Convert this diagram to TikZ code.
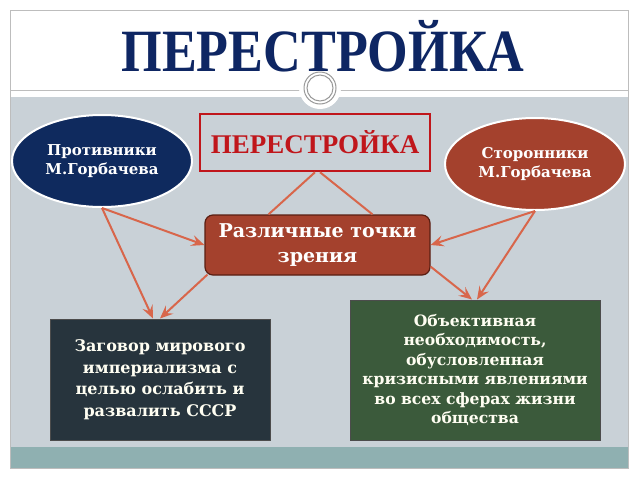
\documentclass[tikz,border=0pt]{standalone}
\usepackage{fontspec}
\setmainfont{DejaVu Serif}
\newfontfamily\headfont{Liberation Serif}
\usepackage{xcolor}
\usetikzlibrary{shapes,positioning,calc,arrows.meta}

\definecolor{titleblue}{HTML}{0E2663}
\definecolor{panelgray}{HTML}{C9D1D7}
\definecolor{bandteal}{HTML}{8FB0B1}
\definecolor{framegray}{HTML}{BDBDBD}
\definecolor{navyfill}{HTML}{0F2A5E}
\definecolor{brickfill}{HTML}{A4412D}
\definecolor{brickline}{HTML}{5A1E12}
\definecolor{slatefill}{HTML}{27343D}
\definecolor{greenfill}{HTML}{3B5A3B}
\definecolor{redline}{HTML}{C0161B}
\definecolor{arrowred}{HTML}{D8664B}

\begin{document}
\begin{tikzpicture}[x=1pt,y=-1pt,
    oval/.style={draw=white, line width=2pt, ellipse, minimum width=180pt, minimum height=92pt, inner sep=0pt, text=white, align=center, font=\bfseries\fontsize{15}{19}\selectfont},
    card/.style={draw=black!70, line width=1pt, rectangle, inner sep=0pt, text=white!95!yellow, align=center, font=\bfseries\fontsize{16}{21.5}\selectfont},
    link/.style={draw=arrowred, line width=2pt},
    arr/.style={link, -{Stealth[length=13pt,width=11pt,inset=5pt]}}
]
    \useasboundingbox (0,0) rectangle (640,480);
    \fill[white] (0,0) rectangle (640,480);

    % Slide frame and panels
    \fill[panelgray] (10,97) rectangle (628,447);
    \fill[bandteal] (10,447) rectangle (628,468);
    \draw[framegray, line width=1pt] (10,10) rectangle (628,468);
    \draw[framegray, line width=1pt] (10,90) -- (628,90);
    \fill[white] (320,88) circle (21);
    \draw[gray!80, line width=1pt] (320,88) circle (16) (320,88) circle (13);

    % Title
    \node [font=\headfont\bfseries\fontsize{60}{60}\selectfont, text=titleblue] (title) at (323,46) {\scalebox{0.87}[1]{ПЕРЕСТРОЙКА}};

    % Upper row
    \node [draw=redline, line width=2.5pt, minimum width=230pt, minimum height=57pt, inner sep=0pt, text=redline, font=\headfont\bfseries\fontsize{27}{27}\selectfont] (perestr) at (315,142.5) {ПЕРЕСТРОЙКА};
    \node [oval, fill=navyfill] (against) at (102,161) {Противники\\М.Горбачева};
    \node [oval, fill=brickfill] (support) at (535,164) {Сторонники\\М.Горбачева};

    % Middle
    \node [draw=brickline, line width=1.2pt, fill=brickfill, rounded corners=8pt, minimum width=225pt, minimum height=60pt, inner sep=0pt, text=white, align=center, font=\bfseries\fontsize{19}{25}\selectfont] (views) at (317.5,245) {Различные точки\\зрения};

    % Lower row
    \node [card, fill=slatefill, minimum width=220pt, minimum height=121pt] (plot) at (160,379.5) {Заговор мирового\\империализма с\\целью ослабить и\\развалить СССР};
    \node [card, fill=greenfill, minimum width=250pt, minimum height=140pt, font=\bfseries\fontsize{15.6}{19.5}\selectfont] (need) at (475,370) {Объективная\\необходимость,\\обусловленная\\кризисными явлениями\\во всех сферах жизни\\общества};

    % Connectors
    \draw [link] ([xshift=0pt]perestr.south) -- ([xshift=-49pt]views.north);
    \draw [link] ([xshift=5pt]perestr.south) -- ([xshift=55pt]views.north);
    \draw [arr] (against.south) -- (views.west);
    \draw [arr] (against.south) -- ([xshift=-7pt]plot.north);
    \draw [arr] ([xshift=3pt,yshift=1pt]views.south west) -- (plot.north);
    \draw [arr] (support.south) -- (views.east);
    \draw [arr] (support.south) -- ([xshift=2pt]need.north);
    \draw [arr] ([yshift=9pt]views.south east) -- ([xshift=-3pt]need.north);
\end{tikzpicture}
\end{document}
